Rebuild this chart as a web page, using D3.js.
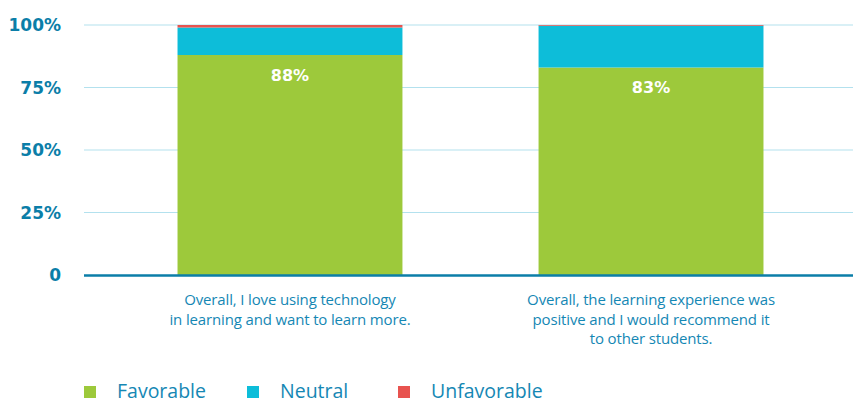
<!DOCTYPE html>
<html>
<head>
<meta charset="utf-8">
<script src="https://cdn.jsdelivr.net/npm/d3@7"></script>
<style>
  html, body { margin: 0; padding: 0; background: #ffffff; }
  svg { display: block; }
</style>
</head>
<body>
<svg id="chart" width="853" height="404"></svg>
<script>
// Survey responses, percent of students
const categories = [
  ["Overall, I love using technology", "in learning and want to learn more."],
  ["Overall, the learning experience was", "positive and I would recommend it", "to other students."]
];
const favorable = [88, 83];
const neutral = [11, 16.7];
const unfavorable = [1, 0.3];
const seriesNames = ["Favorable", "Neutral", "Unfavorable"];
const yTicks = [0, 25, 50, 75, 100];
const yTickLabels = ["0", "25%", "50%", "75%", "100%"];

const colors = { Favorable: "#9dc93b", Neutral: "#0dbdd9", Unfavorable: "#e8534f" };
const axisBlue = "#0b7ea8";
const textBlue = "#1587b4";
const boldFont = "'DejaVu Sans', sans-serif";
const bodyFont = "'Open Sans', sans-serif";

const svg = d3.select("#chart");
const margin = { left: 84, top: 25, bottom: 129 };
const W = 853, H = 404;

const rows = categories.map((c, i) => ({
  idx: i,
  Favorable: favorable[i],
  Neutral: neutral[i],
  Unfavorable: unfavorable[i]
}));

const x = d3.scaleBand()
  .domain(rows.map(d => d.idx))
  .range([86, 855])
  .paddingInner(0.377)
  .paddingOuter(0.2535);

const y = d3.scaleLinear().domain([0, 100]).range([H - margin.bottom, margin.top]);

// gridlines
svg.append("g")
  .selectAll("line")
  .data(yTicks.filter(t => t > 0))
  .join("line")
  .attr("x1", margin.left).attr("x2", W)
  .attr("y1", d => y(d)).attr("y2", d => y(d))
  .attr("stroke", "#b3e1ee").attr("stroke-width", 1.2);

// y tick labels
svg.append("g")
  .selectAll("text")
  .data(yTicks)
  .join("text")
  .attr("x", 61)
  .attr("y", d => y(d))
  .attr("dy", "0.36em")
  .attr("text-anchor", "end")
  .attr("font-family", boldFont)
  .attr("font-weight", 700)
  .attr("font-size", 17)
  .attr("fill", axisBlue)
  .text((d, i) => yTickLabels[i]);

// stacked bars
const stack = d3.stack().keys(seriesNames);
const layers = stack(rows);
svg.append("g")
  .selectAll("g")
  .data(layers)
  .join("g")
  .attr("fill", d => colors[d.key])
  .selectAll("rect")
  .data(d => d)
  .join("rect")
  .attr("x", d => x(d.data.idx))
  .attr("width", x.bandwidth())
  .attr("y", d => y(d[1]))
  .attr("height", d => y(d[0]) - y(d[1]));

// value labels
svg.append("g")
  .selectAll("text")
  .data(rows)
  .join("text")
  .attr("x", d => x(d.idx) + x.bandwidth() / 2)
  .attr("y", d => y(d.Favorable) + 20)
  .attr("dy", "0.36em")
  .attr("text-anchor", "middle")
  .attr("font-family", boldFont)
  .attr("font-weight", 700)
  .attr("font-size", 16)
  .attr("fill", "#ffffff")
  .text(d => d.Favorable + "%");

// baseline axis
svg.append("line")
  .attr("x1", margin.left).attr("x2", W)
  .attr("y1", y(0) + 0.5).attr("y2", y(0) + 0.5)
  .attr("stroke", axisBlue).attr("stroke-width", 2.4);

// category labels
const cat = svg.append("g")
  .selectAll("text")
  .data(rows)
  .join("text")
  .attr("text-anchor", "middle")
  .attr("font-family", bodyFont)
  .attr("font-size", 15)
  .attr("letter-spacing", -0.15)
  .attr("fill", textBlue);
cat.each(function(d) {
  const t = d3.select(this);
  categories[d.idx].forEach((line, j) => {
    t.append("tspan")
      .attr("x", x(d.idx) + x.bandwidth() / 2)
      .attr("y", 305 + j * 19.5)
      .text(line);
  });
});

// legend
const legendX = [84, 247, 398];
const leg = svg.append("g")
  .selectAll("g")
  .data(seriesNames)
  .join("g")
  .attr("transform", (d, i) => `translate(${legendX[i]},386)`);
leg.append("rect")
  .attr("width", 12).attr("height", 12)
  .attr("fill", d => colors[d]);
leg.append("text")
  .attr("x", 33).attr("y", 12.3)
  .attr("font-family", bodyFont)
  .attr("font-size", 19.5)
  .attr("fill", textBlue)
  .text(d => d);
</script>
</body>
</html>
